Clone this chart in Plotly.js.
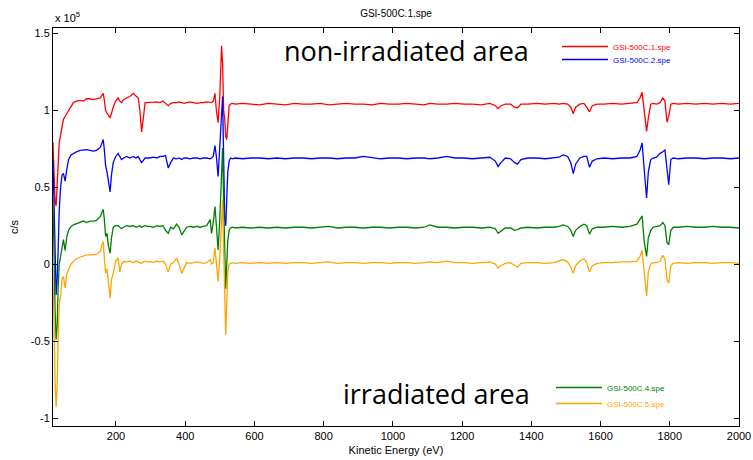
<!DOCTYPE html>
<html>
<head>
<meta charset="utf-8">
<script src="https://cdn.plot.ly/plotly-3.0.1.min.js"></script>
<style>html,body{margin:0;padding:0;background:#fff;}#chart{width:753px;height:460px;}</style>
</head>
<body>
<div id="chart"></div>
<script>
// Kinetic energy grid (eV)
const energy = [
  18, 21, 24, 27, 30, 33, 36, 40, 44, 48,
  53, 58, 63, 70, 77, 86, 96, 106, 115, 125,
  134, 144, 150, 155, 160, 163, 166, 170, 174, 178,
  183, 187, 192, 199, 206, 211, 216, 222, 231, 240,
  250, 258, 264, 269, 274, 279, 284, 291, 298, 308,
  318, 327, 336, 343, 351, 358, 366, 375, 382, 390,
  397, 404, 414, 424, 434, 443, 452, 462, 472, 476,
  481, 486, 490, 495, 500, 505, 508, 511, 514, 517,
  520, 523, 527, 531, 536, 545, 565, 590, 615, 640,
  665, 690, 715, 740, 765, 790, 815, 840, 865, 890,
  914, 940, 965, 990, 1015, 1040, 1065, 1090, 1107, 1130,
  1155, 1180, 1205, 1230, 1255, 1280, 1296, 1304, 1312, 1325,
  1340, 1352, 1360, 1370, 1390, 1415, 1440, 1465, 1480, 1492,
  1505, 1514, 1521, 1528, 1540, 1552, 1560, 1568, 1576, 1590,
  1610, 1635, 1660, 1685, 1705, 1714, 1720, 1726, 1733, 1738,
  1745, 1752, 1762, 1772, 1780, 1786, 1792, 1797, 1803, 1810,
  1825, 1850, 1875, 1900, 1925, 1950, 1975, 2000
];

// Intensities (c/s, in units of 1e5)
const spe1 = [
  0.79, 0.56, 0.40, 0.38, 0.55, 0.72, 0.79, 0.84, 0.90, 0.94,
  0.96, 0.98, 1.00, 1.03, 1.05, 1.06, 1.065, 1.06, 1.075, 1.075,
  1.07, 1.075, 1.08, 1.08, 1.10, 1.11, 1.07, 1.00, 0.98, 0.97,
  0.95, 0.99, 1.02, 1.06, 1.08, 1.06, 1.05, 1.07, 1.08, 1.09,
  1.11, 1.09, 1.08, 1.00, 0.86, 0.95, 1.05, 1.05, 1.052, 1.05,
  1.055, 1.05, 1.06, 1.045, 1.03, 1.045, 1.05, 1.05, 1.055, 1.05,
  1.045, 1.05, 1.055, 1.05, 1.045, 1.05, 1.05, 1.055, 1.05, 1.05,
  1.06, 1.11, 1.00, 0.92, 1.10, 1.42, 1.30, 1.00, 0.95, 0.83,
  0.81, 0.93, 1.03, 1.04, 1.045, 1.04, 1.045, 1.04, 1.035, 1.045,
  1.04, 1.035, 1.045, 1.04, 1.04, 1.045, 1.035, 1.04, 1.045, 1.04,
  1.04, 1.035, 1.045, 1.04, 1.04, 1.045, 1.04, 1.035, 1.045, 1.04,
  1.04, 1.045, 1.04, 1.04, 1.035, 1.045, 1.03, 1.01, 1.03, 1.04,
  1.04, 1.02, 1.015, 1.04, 1.04, 1.045, 1.04, 1.045, 1.04, 1.045,
  1.04, 1.02, 0.978, 1.02, 1.04, 1.045, 1.02, 0.99, 1.03, 1.04,
  1.04, 1.045, 1.04, 1.045, 1.05, 1.08, 1.117, 1.00, 0.863, 0.95,
  1.04, 1.045, 1.04, 1.05, 1.08, 1.06, 0.922, 0.96, 1.04, 1.045,
  1.04, 1.045, 1.04, 1.045, 1.04, 1.045, 1.04, 1.045
];
const spe2 = [
  0.68, 0.45, 0.10, -0.20, -0.10, 0.10, 0.35, 0.50, 0.58, 0.59,
  0.54, 0.62, 0.68, 0.71, 0.72, 0.73, 0.74, 0.745, 0.745, 0.74,
  0.735, 0.74, 0.75, 0.76, 0.79, 0.81, 0.75, 0.64, 0.60, 0.55,
  0.47, 0.58, 0.66, 0.70, 0.72, 0.70, 0.68, 0.69, 0.70, 0.69,
  0.70, 0.69, 0.70, 0.68, 0.66, 0.675, 0.69, 0.69, 0.69, 0.695,
  0.69, 0.70, 0.70, 0.705, 0.625, 0.66, 0.69, 0.685, 0.69, 0.68,
  0.69, 0.69, 0.685, 0.69, 0.69, 0.685, 0.69, 0.69, 0.685, 0.69,
  0.70, 0.77, 0.70, 0.57, 0.75, 1.00, 1.09, 0.70, 0.30, 0.25,
  0.45, 0.60, 0.67, 0.69, 0.685, 0.69, 0.685, 0.69, 0.69, 0.685,
  0.69, 0.685, 0.69, 0.69, 0.685, 0.69, 0.69, 0.685, 0.69, 0.69,
  0.70, 0.69, 0.685, 0.69, 0.69, 0.685, 0.69, 0.69, 0.685, 0.69,
  0.70, 0.69, 0.69, 0.685, 0.69, 0.695, 0.67, 0.635, 0.66, 0.69,
  0.685, 0.66, 0.65, 0.68, 0.69, 0.69, 0.685, 0.69, 0.695, 0.71,
  0.70, 0.66, 0.588, 0.65, 0.69, 0.70, 0.70, 0.63, 0.67, 0.685,
  0.69, 0.685, 0.69, 0.69, 0.70, 0.74, 0.788, 0.62, 0.43, 0.60,
  0.68, 0.69, 0.695, 0.72, 0.73, 0.744, 0.60, 0.516, 0.68, 0.69,
  0.685, 0.69, 0.69, 0.685, 0.69, 0.69, 0.685, 0.69
];
const spe4 = [
  0.42, 0.0, -0.30, -0.49, -0.40, -0.15, 0.0, 0.05, 0.12, 0.16,
  0.09, 0.18, 0.22, 0.245, 0.256, 0.265, 0.27, 0.28, 0.27, 0.28,
  0.28, 0.285, 0.30, 0.31, 0.34, 0.355, 0.30, 0.18, 0.20, 0.12,
  0.07, 0.17, 0.24, 0.25, 0.25, 0.24, 0.23, 0.24, 0.25, 0.245,
  0.25, 0.24, 0.245, 0.25, 0.24, 0.245, 0.25, 0.245, 0.245, 0.24,
  0.25, 0.245, 0.25, 0.22, 0.20, 0.24, 0.23, 0.26, 0.24, 0.19,
  0.22, 0.24, 0.245, 0.24, 0.245, 0.24, 0.245, 0.25, 0.29, 0.20,
  0.27, 0.375, 0.25, 0.093, 0.30, 0.60, 0.755, 0.40, 0.0, -0.16,
  0.0, 0.15, 0.22, 0.235, 0.24, 0.235, 0.24, 0.235, 0.24, 0.235,
  0.24, 0.235, 0.24, 0.24, 0.235, 0.24, 0.245, 0.235, 0.24, 0.24,
  0.235, 0.24, 0.24, 0.235, 0.24, 0.24, 0.235, 0.24, 0.255, 0.24,
  0.24, 0.235, 0.24, 0.24, 0.235, 0.24, 0.23, 0.20, 0.215, 0.235,
  0.235, 0.22, 0.225, 0.235, 0.24, 0.235, 0.24, 0.24, 0.245, 0.255,
  0.245, 0.22, 0.18, 0.22, 0.245, 0.26, 0.25, 0.195, 0.23, 0.24,
  0.24, 0.245, 0.24, 0.245, 0.26, 0.29, 0.314, 0.15, 0.05, 0.17,
  0.22, 0.24, 0.245, 0.25, 0.27, 0.25, 0.14, 0.126, 0.22, 0.24,
  0.24, 0.245, 0.24, 0.24, 0.245, 0.24, 0.24, 0.235
];
const spe5 = [
  -0.06, -0.50, -0.75, -0.93, -0.80, -0.50, -0.25, -0.21, -0.10, -0.08,
  -0.156, -0.06, -0.037, 0.0, 0.017, 0.035, 0.045, 0.055, 0.06, 0.06,
  0.06, 0.065, 0.075, 0.085, 0.13, 0.147, 0.05, -0.06, -0.03, -0.12,
  -0.22, -0.10, -0.06, 0.02, 0.04, -0.05, 0.0, 0.017, 0.015, 0.02,
  0.01, 0.02, 0.015, 0.01, 0.005, 0.015, 0.02, 0.015, 0.017, 0.01,
  0.02, 0.015, 0.02, 0.0, -0.05, 0.0, 0.01, 0.04, 0.0, -0.06,
  -0.02, 0.01, 0.005, 0.01, 0.015, 0.01, 0.005, 0.01, 0.03, 0.0,
  0.01, 0.104, 0.0, -0.113, 0.05, 0.30, 0.42, 0.10, -0.30, -0.46,
  -0.25, -0.05, 0.0, 0.005, 0.01, 0.005, 0.01, 0.005, 0.01, 0.005,
  0.01, 0.005, 0.01, 0.01, 0.005, 0.01, 0.015, 0.005, 0.01, 0.01,
  0.005, 0.01, 0.01, 0.005, 0.01, 0.01, 0.005, 0.01, 0.015, 0.01,
  0.02, 0.01, 0.01, 0.005, 0.01, 0.015, 0.0, -0.026, -0.01, 0.005,
  0.01, -0.01, -0.02, 0.005, 0.01, 0.01, 0.005, 0.01, 0.02, 0.03,
  0.015, -0.02, -0.06, -0.01, 0.02, 0.035, 0.01, -0.05, -0.01, 0.005,
  0.01, 0.01, 0.015, 0.015, 0.02, 0.05, 0.089, -0.05, -0.206, -0.05,
  0.0, 0.01, 0.01, 0.02, 0.058, 0.03, -0.10, -0.124, -0.01, 0.005,
  0.01, 0.005, 0.01, 0.01, 0.005, 0.01, 0.01, 0.005
];

const seriesNames = ['GSI-500C.1.spe', 'GSI-500C.2.spe', 'GSI-500C.4.spe', 'GSI-500C.5.spe'];
const seriesColors = ['#ff0000', '#0000ff', '#008000', '#ffa500'];
const seriesData = [spe1, spe2, spe4, spe5];
const seriesLegend = ['legend', 'legend2', 'legend3', 'legend4'];

const xTicks = [200, 400, 600, 800, 1000, 1200, 1400, 1600, 1800, 2000];
const xTickText = ['200', '400', '600', '800', '1000', '1200', '1400', '1600', '1800', '2000'];
const yTicks = [-1, -0.5, 0, 0.5, 1, 1.5];
const yTickText = ['-1', '-0.5', '0', '0.5', '1', '1.5'];

const traces = seriesData.map((ys, i) => ({
  type: 'scatter',
  mode: 'lines',
  x: energy,
  y: ys,
  name: '<span style="color:' + seriesColors[i] + '">' + seriesNames[i] + '</span>',
  legend: seriesLegend[i],
  line: { color: seriesColors[i], width: 1.3 },
  hoverinfo: 'skip'
}));

const pxX = p => (p - 53) / 686;
const pxY = p => (426 - p) / 398;

function legendBox(leftPx, topPx) {
  return {
    x: pxX(leftPx), y: pxY(topPx), xanchor: 'left', yanchor: 'top',
    bgcolor: 'rgba(0,0,0,0)', borderwidth: 0, itemwidth: 46,
    font: { family: 'Liberation Sans, Arial, sans-serif', size: 8 },
    tracegroupgap: 0
  };
}

const layout = {
  width: 753,
  height: 460,
  margin: { l: 53, r: 14, t: 28, b: 34 },
  paper_bgcolor: '#fff',
  plot_bgcolor: '#fff',
  font: { family: 'Liberation Sans, Arial, sans-serif', size: 11, color: '#000' },
  title: {
    text: 'GSI-500C.1.spe',
    font: { family: 'Liberation Sans, Arial, sans-serif', size: 10, color: '#000' },
    xref: 'paper', x: 0.5, xanchor: 'center',
    yref: 'container', y: 0.97, yanchor: 'middle'
  },
  xaxis: {
    range: [18, 2000],
    tickmode: 'array', tickvals: xTicks, ticktext: xTickText,
    ticks: 'inside', ticklen: 5, tickwidth: 1, tickcolor: '#000',
    showline: true, linecolor: '#000', linewidth: 1, mirror: 'ticks',
    showgrid: false, zeroline: false,
    tickfont: { size: 11 },
    title: { text: 'Kinetic Energy (eV)', font: { size: 11 }, standoff: 5 }
  },
  yaxis: {
    range: [-1.052, 1.535],
    tickmode: 'array', tickvals: yTicks, ticktext: yTickText,
    ticks: 'inside', ticklen: 5, tickwidth: 1, tickcolor: '#000',
    showline: true, linecolor: '#000', linewidth: 1, mirror: 'ticks',
    showgrid: false, zeroline: false,
    tickfont: { size: 11 },
    title: { text: 'c/s', font: { size: 11 }, standoff: 9 }
  },
  showlegend: true,
  legend: legendBox(557, 32),
  legend2: legendBox(557, 45),
  legend3: legendBox(551, 373),
  legend4: legendBox(551, 389),
  annotations: [
    {
      text: 'x 10<sup>5</sup>', xref: 'paper', yref: 'paper', x: 0, y: 1,
      xanchor: 'left', yanchor: 'bottom', yshift: 2, showarrow: false,
      font: { family: 'Liberation Sans, Arial, sans-serif', size: 11, color: '#000' }
    },
    {
      text: 'non-irradiated area', xref: 'paper', yref: 'paper',
      x: pxX(406), y: pxY(51), xanchor: 'center', yanchor: 'middle',
      showarrow: false,
      font: { family: 'Open Sans, Noto Sans, sans-serif', size: 27, color: '#000' }
    },
    {
      text: 'irradiated area', xref: 'paper', yref: 'paper',
      x: pxX(436), y: pxY(393), xanchor: 'center', yanchor: 'middle',
      showarrow: false,
      font: { family: 'Open Sans, Noto Sans, sans-serif', size: 27, color: '#000' }
    }
  ]
};

Plotly.newPlot('chart', traces, layout, { staticPlot: true, displayModeBar: false });
</script>
</body>
</html>
